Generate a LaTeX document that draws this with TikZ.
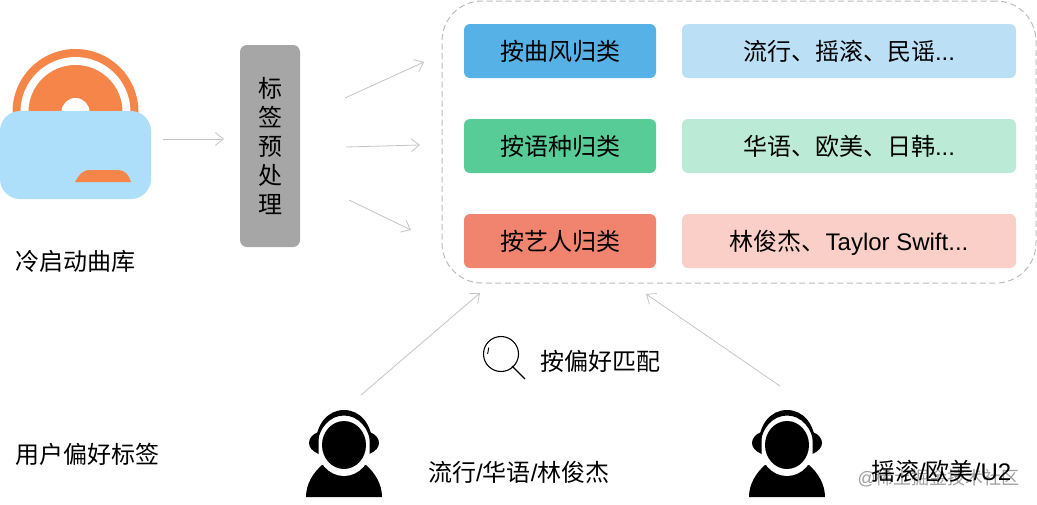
\documentclass[tikz,border=0pt]{standalone}
\usepackage{fontspec}
\setmainfont{Liberation Sans}
\newfontfamily\cjk{Noto Sans CJK SC}
\usetikzlibrary{arrows.meta}
\definecolor{cblue}{HTML}{56B1E6}
\definecolor{cgreen}{HTML}{57CC97}
\definecolor{cred}{HTML}{F0846E}
\definecolor{lblue}{HTML}{BBE0F6}
\definecolor{lgreen}{HTML}{BBEBD6}
\definecolor{lred}{HTML}{F9CFC8}
\definecolor{cgray}{HTML}{A6A6A6}
\definecolor{cice}{HTML}{ADDFFA}
\definecolor{corange}{HTML}{F6854A}
\definecolor{cline}{HTML}{C4C4C4}
\definecolor{cdash}{HTML}{BBBBBB}
\newcommand{\headsetperson}[1]{%
  \begin{scope}[shift={(#1,0)}]
    \fill[black] (306,497) .. controls (306,484) and (313,473) .. (322,465) -- (366,465) .. controls (375,473) and (382,484) .. (382,497) -- cycle;
    \fill[white] (344,445) ellipse [x radius=27.5, y radius=31];
    \fill[black] (344,445) ellipse [x radius=22, y radius=24];
    \fill[black] (315.5,446) .. controls (315.5,424) and (328,410) .. (344,410) .. controls (360,410) and (372.5,424) .. (372.5,446) -- (370.5,446) .. controls (370,428) and (358,415.5) .. (344,415.5) .. controls (330,415.5) and (318,428) .. (317.5,446) -- cycle;
    \fill[black] (318.5,432) .. controls (312,434) and (309,439) .. (309,443) .. controls (309,447) and (312,451) .. (318.5,454) -- cycle;
    \fill[black] (369.5,432) .. controls (376,434) and (379,439) .. (379,443) .. controls (379,447) and (376,451) .. (369.5,454) -- cycle;
  \end{scope}}
\tikzset{
  lab/.style={font=\fontsize{24}{29}\selectfont\cjk,text=black,inner sep=0pt},
  tag/.style={rounded corners=6,minimum height=54,inner sep=0pt,text height=22,text depth=4,font=\fontsize{24}{29}\selectfont\cjk,text=black},
  keybox/.style={tag,minimum width=192},
  valbox/.style={tag,minimum width=334},
  conn/.style={draw=cline,line width=0.8,-{Straight Barb[length=8,width=13,line width=0.8]}},
}
\begin{document}
\begin{tikzpicture}[x=1pt,y=-1pt]
\useasboundingbox (0,0) rectangle (1037,504);
% disc icon
\begin{scope}
  \clip (0,0) rectangle (160,112);
  \fill[corange] (75.5,112) circle (63);
  \fill[white] (75.5,112) circle (55);
  \fill[corange] (75.5,112) circle (47);
  \fill[white] (75.5,112) circle (14);
\end{scope}
\fill[cice,rounded corners=20] (0,111) rectangle (151,199);
\fill[corange] (75,182) .. controls (79,175) and (82,170) .. (90,170) -- (118,170) .. controls (125,170) and (129,175) .. (131,182) -- cycle;
\node[lab,anchor=center] (library) at (76,261) {冷启动曲库};
\node[lab,anchor=center] (usertags) at (88,454) {用户偏好标签};
% preprocess
\node[fill=cgray,rounded corners=7,minimum width=60,minimum height=202,inner sep=0pt,align=center,font=\fontsize{24}{29}\selectfont\cjk] (pre) at (270,146) {标\\签\\预\\处\\理};
% dashed
\node[draw=cdash,dash pattern=on 6pt off 3.5pt,line width=1,rounded corners=40,minimum width=594,minimum height=282,inner sep=0pt] (panel) at (739,142) {};
\node[keybox,fill=cblue] (k1) at (560,51) {按曲风归类};
\node[keybox,fill=cgreen] (k2) at (560,146) {按语种归类};
\node[keybox,fill=cred] (k3) at (560,241) {按艺人归类};
\node[valbox,fill=lblue] (v1) at (849,51) {流行、摇滚、民谣{\fontspec{Liberation Sans}...}};
\node[valbox,fill=lgreen] (v2) at (849,146) {华语、欧美、日韩{\fontspec{Liberation Sans}...}};
\node[valbox,fill=lred] (v3) at (849,241) {林俊杰、{\fontspec{Liberation Sans}Taylor Swift...}};
% connector ends
\coordinate (a0s) at (163,139); \coordinate (a0e) at (224,139);
\coordinate (a1s) at (345,98);  \coordinate (a1e) at (424,62);
\coordinate (a2s) at (346,147); \coordinate (a2e) at (420,145);
\coordinate (a3s) at (349,200); \coordinate (a3e) at (411,230);
\coordinate (a4s) at (361,395); \coordinate (a4e) at (480,293);
\coordinate (a5s) at (780,386); \coordinate (a5e) at (646,294);
\foreach \i in {0,...,5} \draw[conn] (a\i s) -- (a\i e);
% magnifier
\draw[black,line width=1.1] (501,354) circle (17.5);
\draw[black,line width=1.2] (512,366) -- (525,379);
\draw[black,line width=0.9] (488.8,347.5) -- (487.6,354);
\node[lab] (match) at (600,361) {按偏好匹配};
% persons
\headsetperson{0}
\headsetperson{443}
\node[lab,anchor=west] (u1) at (428,472) {流行{\fontspec{Liberation Sans}/}华语{\fontspec{Liberation Sans}/}林俊杰};
\node[text=black!38,font=\fontsize{18}{20}\selectfont\cjk,inner sep=0pt,anchor=east] (wm) at (1020,478) {{\fontspec{Liberation Sans}@}稀土掘金技术社区};
\node[lab,anchor=west] (u2) at (871,471) {摇滚{\fontspec{Liberation Sans}/}欧美{\fontspec{Liberation Sans}/U2}};
\end{tikzpicture}
\end{document}
